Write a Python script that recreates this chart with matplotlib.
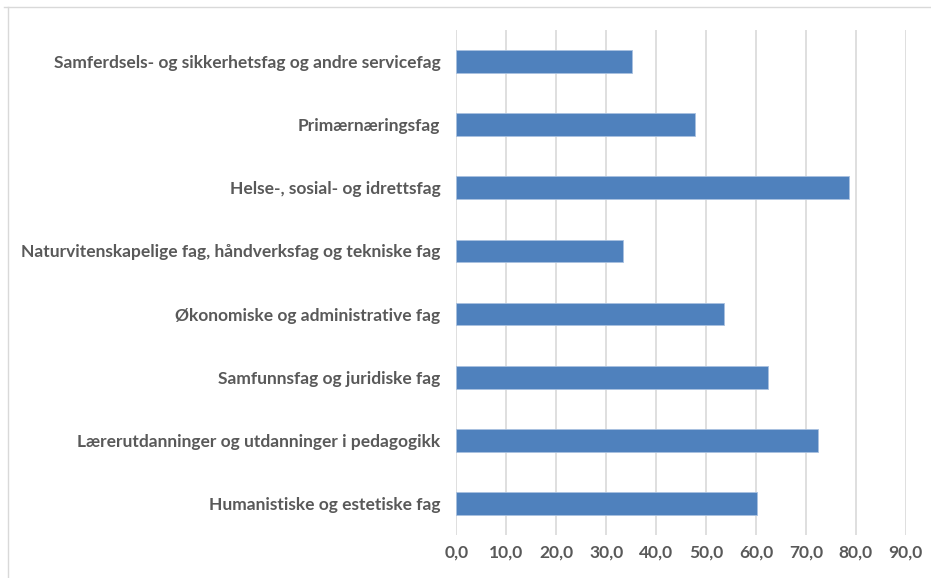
import matplotlib
matplotlib.use("Agg")
import matplotlib.pyplot as plt
from matplotlib.lines import Line2D

categories = [
    "Samferdsels- og sikkerhetsfag og andre servicefag",
    "Primærnæringsfag",
    "Helse-, sosial- og idrettsfag",
    "Naturvitenskapelige fag, håndverksfag og tekniske fag",
    "Økonomiske og administrative fag",
    "Samfunnsfag og juridiske fag",
    "Lærerutdanninger og utdanninger i pedagogikk",
    "Humanistiske og estetiske fag",
]
values = [35.1, 47.9, 78.7, 33.3, 53.7, 62.4, 72.5, 60.3]
xticks = [0, 10, 20, 30, 40, 50, 60, 70, 80, 90]
xticklabels = ["0,0", "10,0", "20,0", "30,0", "40,0", "50,0", "60,0", "70,0", "80,0", "90,0"]

plt.rcParams['font.family'] = ['Lato', 'DejaVu Sans']

fig = plt.figure(figsize=(9.31, 5.78), dpi=100)
ax = fig.add_axes([456.3/931, 1-535/578, (905.7-456.3)/931, (535-30)/578])

ypos = list(range(len(categories)))
ax.barh(ypos, values, height=0.36, color="#4f81bd", edgecolor="#a9c1e0", linewidth=0.6, zorder=3)
ax.set_ylim(len(categories)-0.5, -0.5)
ax.set_xlim(0, 90)
ax.set_yticks(ypos)
ax.set_yticklabels(categories, fontsize=12.5, fontweight='bold', color="#595959")
ax.set_xticks(xticks)
ax.set_xticklabels(xticklabels, fontsize=12.5, fontweight='bold', color="#595959")
ax.tick_params(axis='y', length=0, pad=11.5)
ax.tick_params(axis='x', length=0, pad=7)
ax.grid(axis='x', color="#d9d9d9", linewidth=1.2, zorder=0)
for s in ax.spines.values():
    s.set_visible(False)

fig.add_artist(Line2D([4/931, 1.0], [1-7/578, 1-7/578], color="#d9d9d9", linewidth=1.0, transform=fig.transFigure))
fig.add_artist(Line2D([8/931, 8/931], [1-7/578, 0.0], color="#d9d9d9", linewidth=1.0, transform=fig.transFigure))

fig.savefig("out.png", dpi=100)
